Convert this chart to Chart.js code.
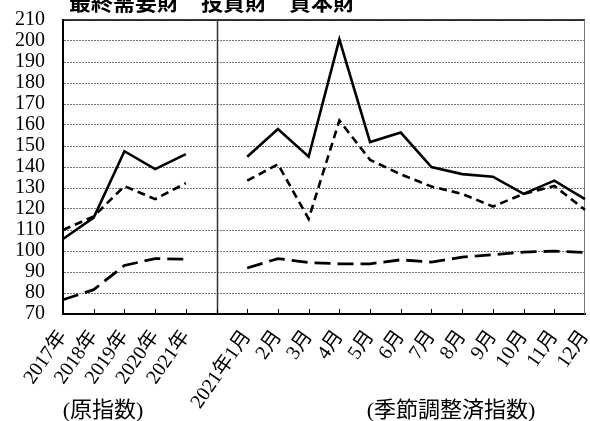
<!DOCTYPE html>
<html>
<head>
<meta charset="utf-8">
<script src="https://cdn.jsdelivr.net/npm/chart.js@4"></script>
<style>
  html, body { margin: 0; padding: 0; background: #fff; overflow: hidden; }
  #wrap { width: 590px; height: 421px; position: relative; }
</style>
</head>
<body>
<div id="wrap"><canvas id="chart"></canvas></div>
<script>
// annual (原指数) 2017-2021, then a blank slot, then monthly 2021 (季節調整済指数)
const categories = ["2017年", "2018年", "2019年", "2020年", "2021年", "",
    "2021年1月", "2月", "3月", "4月", "5月", "6月", "7月", "8月", "9月", "10月", "11月", "12月"];

const finalDemand = [76.8, 81.6, 93.1, 96.4, 96.1, null,
    91.9, 96.4, 94.5, 93.9, 93.9, 95.8, 94.7, 97.1, 98.2, 99.5, 99.9, 99.3];
const investment = [110.0, 116.5, 130.9, 124.7, 132.3, null,
    133.5, 141.3, 115.3, 162.1, 143.4, 136.5, 130.7, 127.2, 121.2, 127.2, 131.0, 119.6];
const capital = [105.7, 115.9, 147.5, 139.0, 146.1, null,
    144.9, 158.1, 144.9, 200.8, 151.9, 156.4, 140.0, 136.6, 135.4, 127.2, 133.5, 124.7];

const yMin = 70;
const yMax = 210;
const yStep = 10;

const titleText = "最終需要財　投資財　資本財";
const groupLabels = ["(原指数)", "(季節調整済指数)"];

const serif = "'Liberation Serif', 'Noto Sans CJK JP', serif";

// frame, divider, inward ticks, title and group captions
const decorations = {
    id: "decorations",
    beforeDatasetsDraw(chart) {
        const ctx = chart.ctx;
        const a = chart.chartArea;
        const x = chart.scales.x;
        ctx.save();
        // top border
        ctx.strokeStyle = "#000";
        ctx.lineWidth = 1.5;
        ctx.beginPath();
        ctx.moveTo(a.left, a.top);
        ctx.lineTo(a.right, a.top);
        ctx.stroke();
        // right border
        ctx.strokeStyle = "#777";
        ctx.lineWidth = 1;
        ctx.beginPath();
        ctx.moveTo(a.right - 0.5, a.top);
        ctx.lineTo(a.right - 0.5, a.bottom);
        ctx.stroke();
        // divider between annual and monthly
        const gx = Math.round(x.getPixelForValue(5)) + 0.5;
        ctx.strokeStyle = "#333";
        ctx.lineWidth = 1.5;
        ctx.beginPath();
        ctx.moveTo(gx, a.top);
        ctx.lineTo(gx, a.bottom);
        ctx.stroke();
        // small ticks pointing up from the x axis
        ctx.strokeStyle = "#000";
        ctx.lineWidth = 1;
        for (let i = 1; i < categories.length - 1; i++) {
            const tx = Math.round(x.getPixelForValue(i)) + 0.5;
            ctx.beginPath();
            ctx.moveTo(tx, a.bottom);
            ctx.lineTo(tx, a.bottom - 5);
            ctx.stroke();
        }
        ctx.restore();
    },
    afterDraw(chart) {
        const ctx = chart.ctx;
        ctx.save();
        ctx.fillStyle = "#000";
        ctx.font = "bold 22px 'Noto Sans CJK JP', sans-serif";
        ctx.textAlign = "left";
        ctx.textBaseline = "alphabetic";
        ctx.fillText(titleText, 69, 10);

        ctx.font = "22px " + serif;
        ctx.textAlign = "center";
        ctx.textBaseline = "middle";
        ctx.fillText(groupLabels[0], 103, 411);
        ctx.fillText(groupLabels[1], 451, 411);
        ctx.restore();
    }
};

new Chart(document.getElementById("chart"), {
    type: "line",
    data: {
        labels: categories,
        datasets: [
            {
                label: "最終需要財",
                data: finalDemand,
                borderColor: "#000",
                borderWidth: 2.8,
                borderDash: [16, 7]
            },
            {
                label: "投資財",
                data: investment,
                borderColor: "#000",
                borderWidth: 2.6,
                borderDash: [8, 5]
            },
            {
                label: "資本財",
                data: capital,
                borderColor: "#000",
                borderWidth: 2.6
            }
        ]
    },
    options: {
        responsive: true,
        maintainAspectRatio: false,
        animation: false,
        spanGaps: false,
        layout: { padding: { top: 20, right: 5, left: 0, bottom: 0 } },
        elements: {
            point: { radius: 0, hoverRadius: 0 },
            line: { tension: 0, borderCapStyle: "butt", borderJoinStyle: "miter" }
        },
        plugins: {
            legend: { display: false },
            title: { display: false },
            tooltip: { enabled: false }
        },
        scales: {
            x: {
                offset: false,
                grid: { display: false },
                border: { display: true, color: "#000", width: 2 },
                ticks: {
                    autoSkip: false,
                    minRotation: 55,
                    maxRotation: 55,
                    padding: 4,
                    color: "#000",
                    font: { family: serif, size: 20 }
                },
                afterFit(scale) {
                    scale.height = 107;
                    scale.paddingLeft = 0;
                    scale.paddingRight = 5;
                }
            },
            y: {
                min: yMin,
                max: yMax,
                grid: {
                    color: "#777",
                    lineWidth: 1,
                    drawTicks: false
                },
                // in v4 border.dash styles the grid lines
                border: { display: true, color: "#000", width: 2, dash: [2, 1] },
                ticks: {
                    stepSize: yStep,
                    autoSkip: false,
                    padding: 18,
                    color: "#000",
                    font: { family: serif, size: 20 }
                },
                afterFit(scale) {
                    scale.width = 63;
                    scale.paddingTop = 0;
                    scale.paddingBottom = 0;
                }
            }
        }
    },
    plugins: [decorations]
});
</script>
</body>
</html>
